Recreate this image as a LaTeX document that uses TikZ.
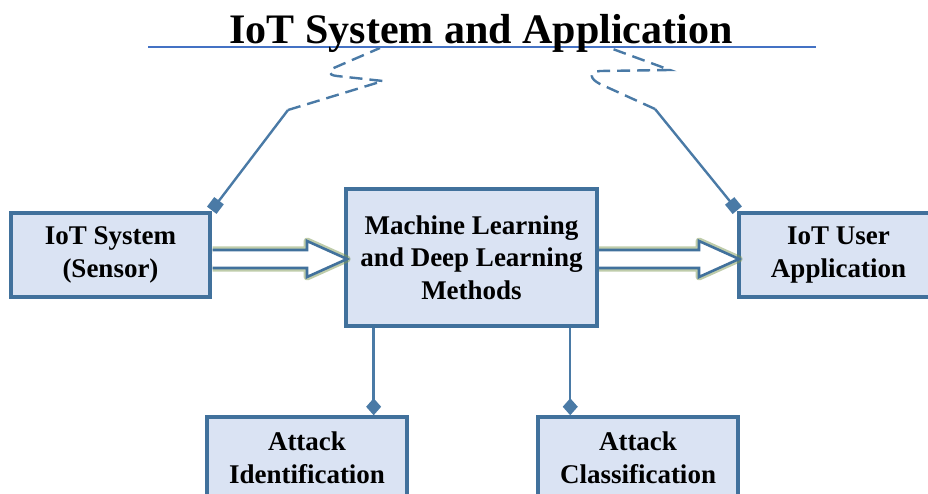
\documentclass[tikz,border=0pt]{standalone}
\usepackage{fontspec}
\setmainfont{Liberation Serif}
\usetikzlibrary{arrows.meta,calc}
\definecolor{boxfill}{HTML}{DAE3F3}
\definecolor{boxline}{HTML}{41719C}
\definecolor{conn}{HTML}{4A7AA6}
\definecolor{titleline}{HTML}{4472C4}
\definecolor{glow}{HTML}{7F9A55}
\tikzset{
  box/.style={draw=boxline, line width=3.5pt, fill=boxfill, align=center,
    font=\fontsize{27}{32.5}\selectfont\bfseries, inner sep=0pt},
  conline/.style={draw=conn, line width=2.4pt},
  dashline/.style={draw=conn, line width=2.4pt, dash pattern=on 13pt off 7pt},
  barrow/.style={draw=boxline, line width=2.6pt, fill=white, line join=miter},
  barrowglow/.style={draw=glow, line width=7pt, opacity=0.5, line join=round},
}
\begin{document}
\begin{tikzpicture}[x=1pt,y=-1pt]
\useasboundingbox (0,0) rectangle (928,494);
\clip (0,0) rectangle (928,494);
% title line and title
\coordinate (tl) at (148,47);
\coordinate (tr) at (816,47);
\draw[draw=titleline, line width=2.5pt] (tl) -- (tr);
\node[anchor=base, font=\fontsize{42}{50}\selectfont\bfseries, inner sep=0pt] (title) at (481,44) {IoT System and Application};
% boxes
\node[box, minimum width=199pt, minimum height=84pt] (s) at (110.5,255) {IoT System\\(Sensor)};
\node[box, minimum width=251pt, minimum height=137pt] (m) at (471.5,257.5) {Machine Learning\\and Deep Learning\\Methods};
\node[box, minimum width=199pt, minimum height=84pt] (u) at (838.5,255) {IoT User\\Application};
\node[box, minimum width=200pt, minimum height=82pt] (ai) at (307,458) {Attack\\Identification};
\node[box, minimum width=200pt, minimum height=82pt] (ac) at (638,458) {Attack\\Classification};
% block arrows
\coordinate (a1) at (212.5,259);
\coordinate (a1t) at (347,259);
\coordinate (a2) at (599,259);
\coordinate (a2t) at (739,259);
\foreach \p/\q in {a1/a1t,a2/a2t}{
  \draw[barrowglow, shift={(1.5,2)}] ($(\p)+(0,-9)$) -- ($(\q)+(-40,-9)$) -- ($(\q)+(-40,-18)$) -- (\q) -- ($(\q)+(-40,18)$) -- ($(\q)+(-40,9)$) -- ($(\p)+(0,9)$);
  \draw[barrow] ($(\p)+(0,-9)$) -- ($(\q)+(-40,-9)$) -- ($(\q)+(-40,-18)$) -- (\q) -- ($(\q)+(-40,18)$) -- ($(\q)+(-40,9)$) -- ($(\p)+(0,9)$);
}
% connectors to title line
\coordinate (lk) at (288,110);
\coordinate (le) at (380,48);
\draw[conline, {Square[length=12pt,width=12pt]}-] ($(s.north east)+(0,-1)$) -- (lk);
\draw[dashline] (lk) -- (383,81) -- (337,76) .. controls (327,75) and (328,70) .. (336,67) -- (le);
\coordinate (rk) at (655,109);
\coordinate (re) at (610,48);
\draw[conline, {Square[length=12pt,width=12pt]}-] ($(u.north west)+(0,-1)$) -- (rk);
\draw[dashline] (rk) -- (600,84) .. controls (590,79) and (588,72) .. (600,71) -- (670,70) -- (re);
% connectors down to attack boxes
\coordinate (d1) at ($(m.south west)!0.1155!(m.south east)$);
\coordinate (d2) at ($(m.south west)!0.888!(m.south east)$);
\draw[conline, -{Diamond[length=17pt,width=15pt]}] (d1) -- (d1 |- ai.north);
\draw[conline, -{Diamond[length=17pt,width=15pt]}] (d2) -- (d2 |- ac.north);
\end{tikzpicture}
\end{document}
